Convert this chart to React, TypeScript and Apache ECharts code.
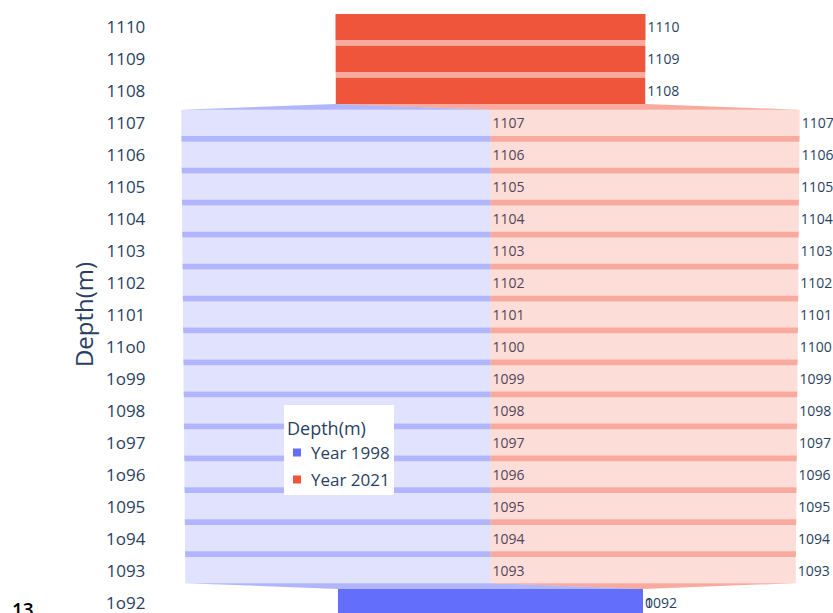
import React, { useEffect, useRef } from "react";
import * as echarts from "echarts";

// Categories (bottom to top), as printed on the axis
const depthLabels = [
  "1o92", "1093", "1o94", "1095", "1o96", "1o97", "1098", "1o99", "11o0", "1101",
  "1102", "1103", "1104", "1105", "1106", "1107", "1108", "1109", "1110",
];
const year1998 = [
  1092, 1093, 1094, 1095, 1096, 1097, 1098, 1099, 1100, 1101,
  1102, 1103, 1104, 1105, 1106, 1107, 0, 0, 0,
];
const year2021 = [
  0, 1093, 1094, 1095, 1096, 1097, 1098, 1099, 1100, 1101,
  1102, 1103, 1104, 1105, 1106, 1107, 1108, 1109, 1110,
];
// rows drawn at full colour (others are dimmed)
const selectedRows = [
  true, false, false, false, false, false, false, false, false, false,
  false, false, false, false, false, false, true, true, true,
];
const seriesNames = ["Year 1998", "Year 2021"];

const BLUE = "#636efa";
const RED = "#EF553B";
const TEXT = "#2a3f5f";
const FONT = '"Open Sans", "Noto Sans", sans-serif';

function buildData(which: number) {
  const rows = depthLabels.map((_, i) => {
    const a = year1998[i];
    const b = year2021[i];
    const total = a + b;
    const l98 = -total / 2;
    const r98 = l98 + a;
    return which === 0 ? [l98, r98, a] : [r98, total / 2, b];
  });
  return rows.map((r, i) => {
    const below = i > 0 ? rows[i - 1] : [0, 0, 0];
    return [i, r[0], r[1], below[0], below[1], r[2], selectedRows[i] ? 1 : 0];
  });
}

function makeRender(color: string, dim: string, conn: string) {
  return (params: any, api: any) => {
    const i = api.value(0);
    const l = api.value(1);
    const r = api.value(2);
    const v = api.value(5);
    const hl = api.value(6);
    const band = api.size([0, 1])[1];
    const h = band * 0.82;
    const p0 = api.coord([l, i]);
    const p1 = api.coord([r, i]);
    const cy = p0[1];
    const children: any[] = [];
    if (i > 0) {
      const q0 = api.coord([api.value(3), i - 1]);
      const q1 = api.coord([api.value(4), i - 1]);
      if (p1[0] - p0[0] > 0.01 || q1[0] - q0[0] > 0.01) {
        children.push({
          type: "polygon",
          shape: {
            points: [
              [p0[0], cy + h / 2],
              [p1[0], cy + h / 2],
              [q1[0], q0[1] - h / 2],
              [q0[0], q0[1] - h / 2],
            ],
          },
          style: { fill: conn },
        });
      }
    }
    children.push({
      type: "rect",
      shape: { x: p0[0], y: cy - h / 2, width: Math.max(0, p1[0] - p0[0]), height: h },
      style: { fill: hl ? color : dim },
    });
    children.push({
      type: "text",
      x: p1[0] + 2,
      y: cy,
      style: {
        text: String(v),
        fill: TEXT,
        fontSize: 14,
        fontFamily: FONT,
        align: "left",
        verticalAlign: "middle",
      },
    });
    return { type: "group", children };
  };
}

export default function App() {
  const ref = useRef<HTMLDivElement>(null);
  useEffect(() => {
    document.body.style.margin = "0";
    document.body.style.overflow = "hidden";
    const chart = echarts.init(ref.current!, null, { renderer: "svg" });
    const option: any = {
      animation: false,
      backgroundColor: "#ffffff",
      grid: { left: 155.35, right: 7.35, top: 11, bottom: 0, containLabel: false },
      xAxis: { type: "value", min: -1200, max: 1200, show: false },
      yAxis: {
        type: "category",
        data: depthLabels,
        boundaryGap: true,
        axisLine: { show: false },
        axisTick: { show: false },
        splitLine: { show: false },
        axisLabel: { color: TEXT, fontSize: 17, fontFamily: FONT, margin: 10 },
        name: "Depth(m)",
        nameLocation: "middle",
        nameRotate: 90,
        nameGap: 59,
        nameTextStyle: { color: TEXT, fontSize: 24, fontFamily: FONT },
      },
      legend: {
        orient: "vertical",
        left: 293,
        top: 444,
        padding: 0,
        itemWidth: 8,
        itemHeight: 8,
        itemGap: 10,
        icon: "rect",
        z: 20,
        data: seriesNames,
        textStyle: { color: TEXT, fontSize: 17, fontFamily: FONT, padding: [0, 0, 0, 5] },
      },
      graphic: [
        {
          type: "rect",
          z: 10,
          shape: { x: 284, y: 405, width: 110, height: 90 },
          style: { fill: "#ffffff" },
        },
        {
          type: "text",
          z: 20,
          x: 287,
          y: 428,
          style: {
            text: "Depth(m)",
            fill: TEXT,
            fontSize: 18,
            fontFamily: FONT,
            verticalAlign: "middle",
          },
        },
        {
          type: "text",
          z: 20,
          x: 12,
          y: 600,
          style: { text: "13", fill: "#000000", fontSize: 19, fontWeight: 600, fontFamily: FONT },
        },
      ],
      series: [
        {
          type: "custom",
          name: seriesNames[0],
          itemStyle: { color: BLUE },
          encode: { x: [1, 2], y: 0 },
          renderItem: makeRender(BLUE, "rgba(99,110,250,0.2)", "rgba(99,110,250,0.5)"),
          data: buildData(0),
          silent: true,
        },
        {
          type: "custom",
          name: seriesNames[1],
          itemStyle: { color: RED },
          encode: { x: [1, 2], y: 0 },
          renderItem: makeRender(RED, "rgba(239,85,59,0.2)", "rgba(239,85,59,0.5)"),
          data: buildData(1),
          silent: true,
        },
      ],
    };
    chart.setOption(option);
    return () => chart.dispose();
  }, []);
  return <div ref={ref} style={{ width: 833, height: 618 }} />;
}
